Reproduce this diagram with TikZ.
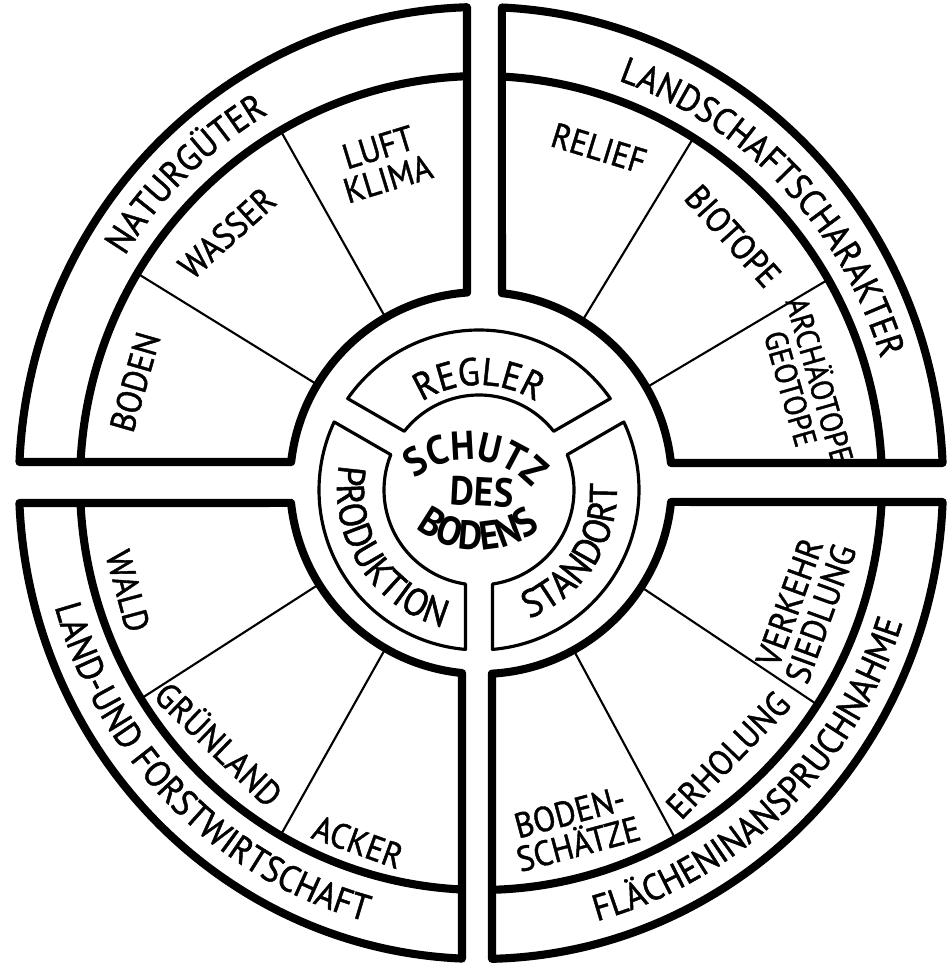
\documentclass[tikz,border=0pt]{standalone}
\usepackage{fontspec}
\setmainfont{PT Sans}[FakeStretch=0.92, UprightFeatures={FakeBold=1.2}]
\usetikzlibrary{decorations.text}

\begin{document}
\begin{tikzpicture}[
heavy/.style={line width=2.3pt, line join=round},
divider/.style={line width=0.6pt},
ring/.style={line width=0.9pt, line join=round},
label/.style={font=\fontsize{10}{9.4}\selectfont, align=center, inner sep=0pt},
core/.style={font=\fontsize{11.5}{12}\selectfont\bfseries, inner sep=0pt},
bandtext/.style={decorate, decoration={text along path, text align=center,
  text={|\fontsize{10.5}{12}\selectfont|#1}}},
ringtext/.style={decorate, decoration={text along path, text align=center,
  text={|\fontsize{11}{12}\selectfont|#1}}},
coretext/.style={decorate, decoration={text along path, text align=center,
  text={|\fontsize{11.5}{12}\selectfont\bfseries|#1}}}
]
\useasboundingbox (-4.81,-4.85) rectangle (4.68,4.83);

% Naturgueter (top left)
\draw[heavy] (94.2:1.91) -- (91.74:4.62 and 4.76)
  arc[start angle=91.74, end angle=177.47, x radius=4.62, y radius=4.76]
  -- (173.7:1.91) arc[start angle=173.7, end angle=94.2, radius=1.91] -- cycle;
\draw[heavy] (92:4.01 and 4.07) arc[start angle=92, end angle=177.04, x radius=4.01, y radius=4.07];
\draw[divider] (120:1.91) -- (120:4.01 and 4.07);
\draw[divider] (149:1.91) -- (149:4.01 and 4.07);

% Landschaftscharakter (top right)
\draw[heavy] (83.7:1.91) -- (87.4:4.62 and 4.76)
  arc[start angle=87.4, end angle=2.41, x radius=4.62, y radius=4.76]
  -- (6.01:1.91) arc[start angle=6.01, end angle=83.7, radius=1.91] -- cycle;
\draw[heavy] (87:4.01 and 4.07) arc[start angle=87, end angle=2.82, x radius=4.01, y radius=4.07];
\draw[divider] (58:1.91) -- (58:4.01 and 4.07);
\draw[divider] (30:1.91) -- (30:4.01 and 4.07);

% Land- und Forstwirtschaft (bottom left)
\draw[heavy] (186:1.91) -- (182.41:4.62 and 4.76)
  arc[start angle=182.41, end angle=267.64, x radius=4.62, y radius=4.76]
  -- (264.3:1.91) arc[start angle=264.3, end angle=186, radius=1.91] -- cycle;
\draw[heavy] (182.82:4.01 and 4.07) arc[start angle=182.82, end angle=267.28, x radius=4.01, y radius=4.07];
\draw[divider] (212:1.91) -- (212:4.01 and 4.07);
\draw[divider] (240:1.91) -- (240:4.01 and 4.07);

% Flaecheninanspruchnahme (bottom right)
\draw[heavy] (273.3:1.91) -- (271.36:4.62 and 4.76)
  arc[start angle=271.36, end angle=357.71, x radius=4.62, y radius=4.76]
  -- (354.3:1.91) arc[start angle=354.3, end angle=273.3, radius=1.91] -- cycle;
\draw[heavy] (271.57:4.01 and 4.07) arc[start angle=271.57, end angle=357.32, x radius=4.01, y radius=4.07];
\draw[divider] (299:1.91) -- (299:4.01 and 4.07);
\draw[divider] (327:1.91) -- (327:4.01 and 4.07);

% band labels
\path[bandtext=NATURGÜTER] (173:4.2 and 4.28)
  arc[start angle=173, end angle=95, x radius=4.2, y radius=4.28];
\path[bandtext=LANDSCHAFTSCHARAKTER] (84:4.18 and 4.26)
  arc[start angle=84, end angle=4, x radius=4.18, y radius=4.26];
\path[bandtext=LAND-UND FORSTWIRTSCHAFT] (183:4.43 and 4.54)
  arc[start angle=183, end angle=268, x radius=4.43, y radius=4.54];
\path[bandtext=FLÄCHENINANSPRUCHNAHME] (272:4.43 and 4.54)
  arc[start angle=272, end angle=355, x radius=4.43, y radius=4.54];

% sector labels
\node[label, rotate=74] (boden) at (-3.46,1.01) {BODEN};
\node[label, rotate=42] (wasser) at (-2.54,2.50) {WASSER};
\node[label, rotate=17] (luft) at (-0.98,3.20) {LUFT\\KLIMA};
\node[label, rotate=-17] (relief) at (1.18,3.35) {RELIEF};
\node[label, rotate=-48] (biotope) at (2.52,2.47) {BIOTOPE};
\node[label, rotate=-74, font=\fontsize{9}{8.6}\selectfont] (archaeo) at (3.26,0.99) {ARCHÄOTOPE\\GEOTOPE};
\node[label, rotate=-75] (wald) at (-3.53,-1.08) {WALD};
\node[label, rotate=-44] (gruen) at (-2.61,-2.60) {GRÜNLAND};
\node[label, rotate=-20] (acker) at (-1.23,-3.59) {ACKER};
\node[label, rotate=15] (schaetze) at (0.93,-3.45) {BODEN-\\SCHÄTZE};
\node[label, rotate=46] (erholung) at (2.47,-2.72) {ERHOLUNG};
\node[label, rotate=70] (verkehr) at (3.24,-1.25) {VERKEHR\\SIEDLUNG};

% inner ring
\begin{scope}[shift={(-0.02,-0.07)}]
\draw[ring] (34.84:1.6) arc[start angle=34.84, end angle=145.16, radius=1.6]
  -- (141.83:0.95) arc[start angle=141.83, end angle=38.17, radius=0.95] -- cycle;
\draw[ring] (154.84:1.6) arc[start angle=154.84, end angle=265.16, radius=1.6]
  -- (261.83:0.95) arc[start angle=261.83, end angle=158.17, radius=0.95] -- cycle;
\draw[ring] (274.84:1.6) arc[start angle=274.84, end angle=385.16, radius=1.6]
  -- (381.83:0.95) arc[start angle=381.83, end angle=278.17, radius=0.95] -- cycle;
\path[ringtext=REGLER] (135:1.05) arc[start angle=135, end angle=45, radius=1.05];
\path[ringtext=PRODUKTION] (160:1.42) arc[start angle=160, end angle=265, radius=1.42];
\path[ringtext=STANDORT] (285:1.38) arc[start angle=285, end angle=369, radius=1.38];
\end{scope}

% centre
\path[coretext=SCHUTZ] ([shift={(145:0.85)}]-0.13,-0.62) arc[start angle=145, end angle=25, radius=0.85];
\node[core, rotate=-3] (des) at (0.01,-0.09) {DES};
\path[coretext=BODENS] ([shift={(235:1.0)}]-0.03,0.33) arc[start angle=235, end angle=305, radius=1.0];

\end{tikzpicture}
\end{document}
